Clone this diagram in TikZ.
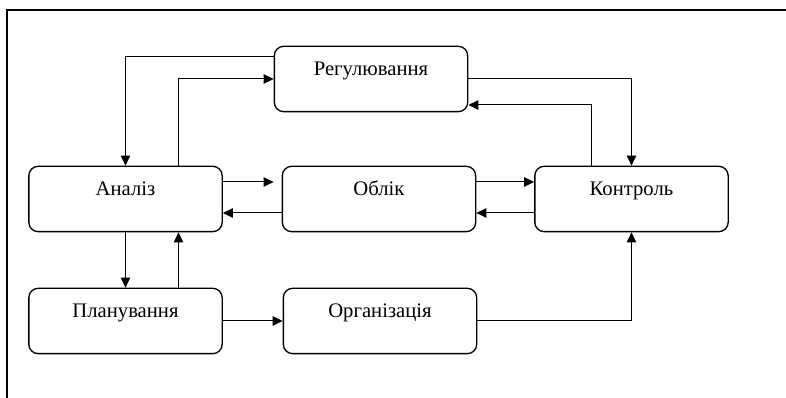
\documentclass[tikz,border=0pt]{standalone}
\usepackage{fontspec}
\setmainfont{Liberation Serif}
\usepackage{tikz}
\usetikzlibrary{arrows.meta, positioning, calc}

\begin{document}
\begin{tikzpicture}[
  x=0.75pt, y=0.75pt,
  stagebox/.style={rectangle, draw=black, line width=1pt, rounded corners=7pt, minimum width=145pt, minimum height=49pt, align=center, font=\fontsize{15.5}{16}\selectfont},
  arrow/.style={-{Triangle[length=7.5pt, width=7pt]}, line width=0.75pt}
]
  \useasboundingbox (0,0) rectangle (786,398);
  \draw[line width=0.9pt] (7,0) -- (7,388) -- (786,388);

  \node[stagebox] (reg) at (371, 319) {Регулювання\\\mbox{}};
  \node[stagebox] (anal) at (125.5, 199) {Аналіз\\\mbox{}};
  \node[stagebox] (oblik) at (379, 199) {Облік\\\mbox{}};
  \node[stagebox] (kontr) at (631.5, 199) {Контроль\\\mbox{}};
  \node[stagebox] (plan) at (125.5, 77) {Планування\\\mbox{}};
  \node[stagebox] (org) at (380, 77) {Організація\\\mbox{}};

  % upper loop
  \draw[arrow] ($(reg.west)+(0,22)$) -| (anal.north);
  \draw[arrow] ($(anal.north)+(53,0)$) |- (reg.west);
  \draw[arrow] (reg.east) -| (kontr.north);
  \draw[arrow] ($(kontr.north)+(-40,0)$) |- ($(reg.east)+(0,-26)$);

  % middle row
  \draw[arrow] ($(anal.east)+(0,17)$) -- ($(oblik.west)+(-8,17)$);
  \draw[arrow] ($(oblik.west)+(0,-14)$) -- ($(anal.east)+(0,-14)$);
  \draw[arrow] ($(oblik.east)+(0,17)$) -- ($(kontr.west)+(0,17)$);
  \draw[arrow] ($(kontr.west)+(0,-14)$) -- ($(oblik.east)+(0,-14)$);

  % lower row
  \draw[arrow] (anal.south) -- (plan.north);
  \draw[arrow] ($(plan.north)+(53,0)$) -- ($(anal.south)+(53,0)$);
  \draw[arrow] (plan.east) -- (org.west);
  \draw[arrow] (org.east) -| (kontr.south);
\end{tikzpicture}
\end{document}
